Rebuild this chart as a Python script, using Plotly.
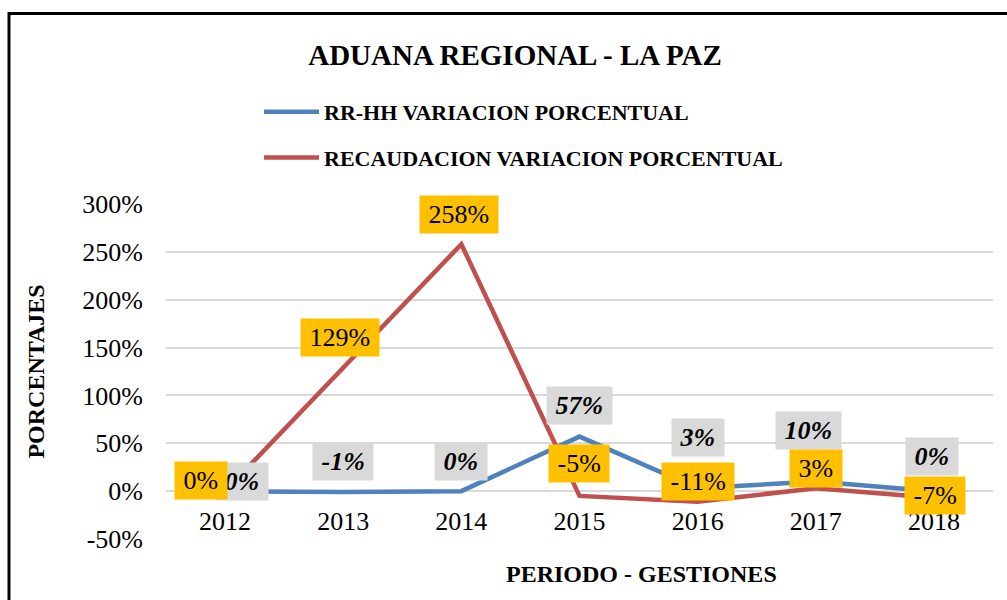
import plotly.graph_objects as go

years = ["2012", "2013", "2014", "2015", "2016", "2017", "2018"]
rrhh = [0, -1, 0, 57, 3, 10, 0]
recaud = [0, 129, 258, -5, -11, 3, -7]
y_ticks = [-50, 0, 50, 100, 150, 200, 250, 300]
y_tick_text = [f"{v}%" for v in y_ticks]

BLUE = "#4F81BD"
RED = "#C0504D"
FONT = "Liberation Serif"
PAD = "&nbsp;"

fig = go.Figure()
fig.add_trace(go.Scatter(x=years, y=rrhh, mode="lines", name="<b>RR-HH VARIACION PORCENTUAL</b>",
                         line=dict(color=BLUE, width=4.5), legendgroup="a"))
fig.add_trace(go.Scatter(x=years, y=recaud, mode="lines", name="<b>RECAUDACION VARIACION PORCENTUAL</b>",
                         line=dict(color=RED, width=4.5), legendgroup="b"))

# label offsets (style only)
blue_off = [(17, 10), (0, 31), (0, 30), (0, 31), (0, 51), (-7, 51), (-2, 35)]
red_off = [(-24, 11), (-3, 30), (-2, 30), (-1, 32), (0, 20), (0, 20), (1, 2)]

annotations = []
for i, (v, (dx, dy)) in enumerate(zip(rrhh, blue_off)):
    annotations.append(dict(x=i, y=v, xref="x", yref="y", text=f"{PAD}<b><i>{v}%</i></b>{PAD}",
                            showarrow=False, xshift=dx, yshift=dy, bgcolor="#D9D9D9",
                            borderpad=2, height=33, font=dict(family=FONT, size=26, color="black")))
for i, (v, (dx, dy)) in enumerate(zip(recaud, red_off)):
    annotations.append(dict(x=i, y=v, xref="x", yref="y", text=f"{PAD}{v}%{PAD}",
                            showarrow=False, xshift=dx, yshift=dy, bgcolor="#FFC000",
                            borderpad=2, height=33, font=dict(family=FONT, size=26, color="black")))
# x-axis title (placed off-centre as in the reference)
annotations.append(dict(x=(641-166)/827, y=(539-574)/335, xref="paper", yref="paper",
                        text="<b>PERIODO - GESTIONES</b>", showarrow=False,
                        xanchor="center", yanchor="middle",
                        font=dict(family=FONT, size=24, color="black")))

fig.update_layout(
    width=1007, height=600,
    margin=dict(l=166, r=14, t=204, b=61),
    paper_bgcolor="white", plot_bgcolor="white",
    title=dict(text="<b>ADUANA REGIONAL - LA PAZ</b>", x=515/1007, xref="container",
               y=1-55/600, yref="container", xanchor="center", yanchor="middle",
               font=dict(family=FONT, size=29, color="black")),
    legend=dict(x=(259-166)/827, y=(539-91)/335, xanchor="left", yanchor="top",
                font=dict(family=FONT, size=22, color="black"), tracegroupgap=14,
                itemwidth=55, bgcolor="rgba(0,0,0,0)"),
    showlegend=True,
    annotations=annotations,
    xaxis=dict(type="category", anchor="free", position=(539-491)/335,
               showgrid=False, showline=False, zeroline=False, ticks="",
               ticklabelstandoff=12,
               tickfont=dict(family=FONT, size=26, color="black"),
               range=[-0.5, 6.5]),
    yaxis=dict(range=[-50, 300], tickvals=y_ticks, ticktext=y_tick_text,
               showgrid=True, gridcolor="#D9D9D9", gridwidth=1.5,
               zeroline=True, zerolinecolor="#D9D9D9", zerolinewidth=1.5,
               showline=False, ticks="", ticklabelstandoff=22,
               tickfont=dict(family=FONT, size=26, color="black"),
               title=dict(text="<b>PORCENTAJES</b>", standoff=30,
                          font=dict(family=FONT, size=24, color="black"))),
    shapes=[dict(type="rect", xref="paper", yref="paper",
                 x0=(9-166)/827, x1=(1010-166)/827, y0=(539-610)/335, y1=(539-13.5)/335,
                 line=dict(color="black", width=3), fillcolor="rgba(0,0,0,0)", layer="below")],
)

fig.write_html("out.html", config={"displayModeBar": False},
               post_script="document.body.style.margin='0';")
